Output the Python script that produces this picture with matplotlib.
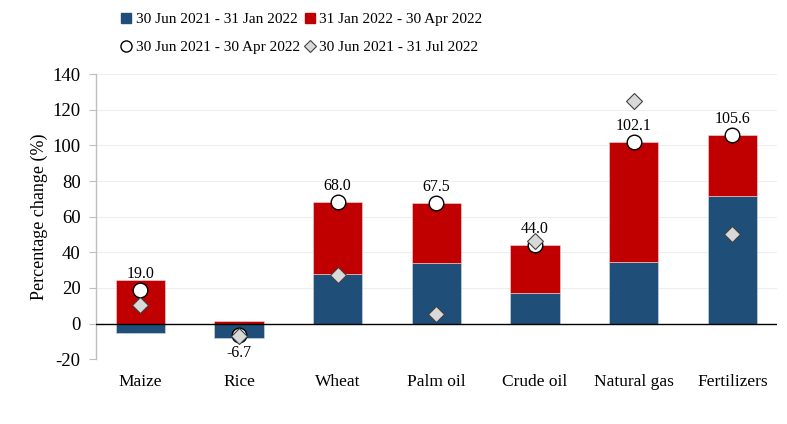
import matplotlib
matplotlib.use("Agg")
import matplotlib.pyplot as plt
from matplotlib.lines import Line2D
import numpy as np

plt.rcParams['font.family'] = ['Liberation Serif', 'DejaVu Serif']

categories = ["Maize", "Rice", "Wheat", "Palm oil", "Crude oil", "Natural gas", "Fertilizers"]
jun_jan = [-5.2, -8.0, 27.6, 34.1, 16.9, 34.4, 71.8]      # 30 Jun 2021 - 31 Jan 2022
jan_apr = [24.2, 1.3, 40.4, 33.4, 27.1, 67.7, 33.8]       # 31 Jan 2022 - 30 Apr 2022
jun_apr = [19.0, -6.7, 68.0, 67.5, 44.0, 102.1, 105.6]    # 30 Jun 2021 - 30 Apr 2022
jun_jul = [10.4, -7.2, 27.5, 5.5, 46.5, 125.0, 50.5]      # 30 Jun 2021 - 31 Jul 2022
yticks = [-20, 0, 20, 40, 60, 80, 100, 120, 140]

blue = "#1f4e79"
red = "#c00000"

fig = plt.figure(figsize=(7.87, 4.24), dpi=100)
ax = fig.add_axes([0.122, 0.153, 0.865, 0.672])

x = np.arange(len(categories))
a = np.array(jun_jan)
b = np.array(jan_apr)
a_bottom = np.zeros_like(a)
b_bottom = np.where(a > 0, a, 0.0)
ax.bar(x, a, 0.5, bottom=a_bottom, color=blue, edgecolor="#d6dce5", linewidth=0.4, zorder=3)
ax.bar(x, b, 0.5, bottom=b_bottom, color=red, edgecolor="#f2dcdb", linewidth=0.4, zorder=3)

ax.plot(x, jun_apr, linestyle="none", marker="o", ms=10.5, mfc="white", mec="black", mew=1.0, zorder=5)
ax.plot(x, jun_jul, linestyle="none", marker="D", ms=8, mfc="#d9d9d9", mec="#404040", mew=0.8, zorder=6)

for xi, v in zip(x, jun_apr):
    if v >= 0:
        ax.annotate(f"{v:.1f}", (xi, v), xytext=(0, 11.5), textcoords="offset points",
                    ha="center", va="center", fontsize=11.5)
    else:
        ax.annotate(f"{v:.1f}", (xi, v), xytext=(0, -12.5), textcoords="offset points",
                    ha="center", va="center", fontsize=11.5)

ax.axhline(0, color="black", linewidth=1.0, zorder=4)
ax.set_ylim(-20, 140)
ax.set_xlim(-0.45, 6.45)
ax.set_yticks(yticks)
ax.set_yticklabels([str(t) for t in yticks], fontsize=13.5)
ax.set_xticks(x)
ax.set_xticklabels(categories, fontsize=12.5)
ax.tick_params(axis="x", length=0, pad=11)
ax.tick_params(axis="y", length=5, color="#bfbfbf", pad=6, direction="out")
ax.yaxis.grid(True, color="#eeeeee", linewidth=0.8, zorder=0)
ax.set_axisbelow(True)
for s in ["top", "right", "bottom"]:
    ax.spines[s].set_visible(False)
ax.spines["left"].set_color("#bfbfbf")
ax.spines["left"].set_linewidth(1.0)
ax.set_ylabel("Percentage change (%)", fontsize=13, labelpad=3)

handles = [
    Line2D([], [], linestyle="none", marker="s", ms=6.5, mfc=blue, mec=blue),
    Line2D([], [], linestyle="none", marker="o", ms=8, mfc="white", mec="black", mew=1.0),
    Line2D([], [], linestyle="none", marker="s", ms=6.5, mfc=red, mec=red),
    Line2D([], [], linestyle="none", marker="D", ms=6, mfc="#d9d9d9", mec="#404040", mew=0.8),
]
labels = ["30 Jun 2021 - 31 Jan 2022", "30 Jun 2021 - 30 Apr 2022",
          "31 Jan 2022 - 30 Apr 2022", "30 Jun 2021 - 31 Jul 2022"]
fig.legend(handles, labels, ncol=2, loc="upper left", bbox_to_anchor=(0.145, 0.985),
           frameon=False, fontsize=11, handlelength=0.8, handletextpad=0.2,
           columnspacing=0.3, labelspacing=0.95, borderaxespad=0.0)

fig.savefig("out.png", dpi=100)
